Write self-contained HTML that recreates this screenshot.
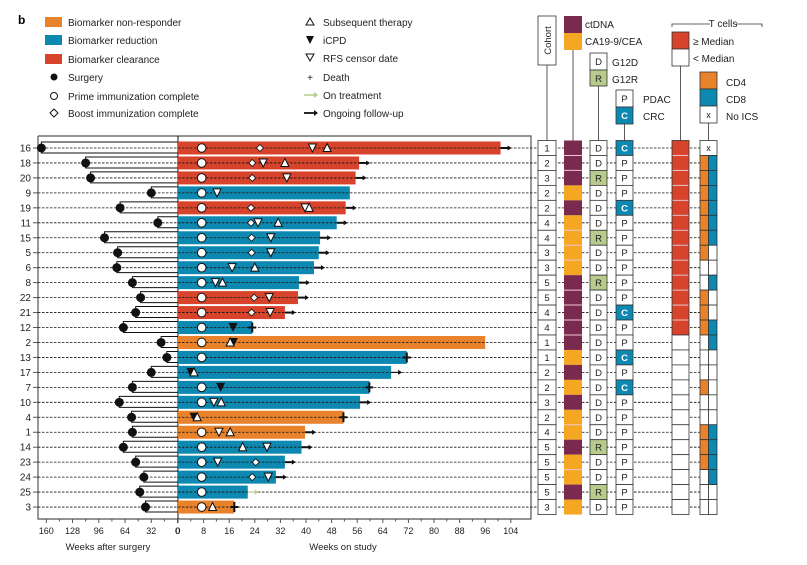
<!DOCTYPE html>
<html><head><meta charset="utf-8"><style>
html,body{margin:0;padding:0;background:#fff}
svg{display:block;font-family:"Liberation Sans",sans-serif}
</style></head><body>
<svg id="c" width="807" height="565" viewBox="0 0 807 565" xmlns="http://www.w3.org/2000/svg"></svg>
<script>
const patients=["16","18","20","9","19","11","15","5","6","8","22","21","12","2","13","17","7","10","4","1","14","23","24","25","3"];
const surgeryWeeks=[166,112,106,32,70,24,89,73,74,55,45,51,66,20,13,32,55,71,56,55,66,51,41,46,39];
const studyWeeks=[100.8,56.6,55.5,53.7,52.4,49.6,44.4,44,42.5,37.8,37.5,33.4,23.2,96,71.5,66.6,59.8,56.9,51.7,39.7,38.6,33.4,30.6,21.8,17.6];
const response=["C","C","C","R","C","R","R","R","R","R","C","C","R","N","R","R","R","R","N","N","R","R","R","R","N"];
const primeWeeks=[7.4,7.4,7.4,7.4,7.4,7.4,7.4,7.4,7.4,7.4,7.4,7.4,7.4,7.4,7.4,null,7.4,7.4,null,7.4,7.4,7.4,7.4,7.4,7.4];
const boostWeeks=[25.6,23.2,23.2,null,22.8,22.8,23,23,null,null,23.8,23,null,null,null,null,null,null,null,null,null,24.3,23.2,null,null];
const rfsWeeks=[42,26.6,34,12.2,39.7,25,29,29,16.9,11.7,28.5,28.8,null,null,null,null,null,11.2,null,12.8,27.8,12.4,28.2,null,null];
const subsqWeeks=[46.6,33.4,null,null,41,31.3,null,null,24,13.9,null,null,null,16.3,null,5,null,13.5,6,16.3,20.2,null,null,null,10.8];
const icpdWeeks=[null,null,null,null,null,null,null,null,null,null,null,null,17.2,17.3,null,4,13.3,null,5,null,null,null,null,null,null];
const endType=["A","A","A","","A","A","A","A","A","A","A","A","D","","D","a","D","A","D","A","A","A","A","G","D"];
const cohort=[1,2,3,2,2,4,4,3,3,5,5,4,4,1,1,2,2,3,2,4,5,5,5,5,3];
const biomarker=["P","P","P","Y","P","Y","Y","Y","Y","P","P","P","P","P","Y","P","Y","P","Y","Y","P","Y","Y","P","Y"];
const kras=["D","D","R","D","D","D","R","D","D","R","D","D","D","D","D","D","D","D","D","D","R","D","D","R","D"];
const tumor=["C","P","P","P","C","P","P","P","P","P","P","C","P","P","C","P","C","P","P","P","P","P","P","P","P"];
const tcell=[1,1,1,1,1,1,1,1,1,1,1,1,1,0,0,0,0,0,0,0,0,0,0,0,0];
const cd4=["x","O","O","O","O","O","O","O","W","W","O","O","O","W","W","W","O","W","W","O","O","O","W","W","W"];
const cd8=["x","B","B","B","B","B","B","W","W","B","W","W","B","B","W","W","W","W","W","B","B","B","B","W","W"];
const leftTicks=[160,128,96,64,32,0];
const rightTicks=[0,8,16,24,32,40,48,56,64,72,80,88,96,104];

const S=document.getElementById('c'),NS="http://www.w3.org/2000/svg";
const COL={C:"#d8432b",R:"#0d88b1",N:"#e8832b",P:"#7a2a4f",Y:"#f5a623",G:"#b7cb8c",T:"#0d88b1",O:"#e8832b",B:"#0d88b1",W:"#fff"};
function el(t,a,p){const e=document.createElementNS(NS,t);for(const k in a)e.setAttribute(k,a[k]);(p||S).appendChild(e);return e;}
function tx(x,y,s,a){const e=el('text',Object.assign({x:x,y:y,'font-size':10,fill:'#222'},a||{}));e.textContent=s;return e;}
const xL=w=>177.5-w*0.82, xR=w=>178+w*3.2, yR=i=>148+i*14.96;
const K='#111';
// legend
tx(18,24,'b',{'font-size':12,'font-weight':'bold',fill:'#000'});
[["N","Biomarker non-responder",22],["R","Biomarker reduction",40],["C","Biomarker clearance",59]].forEach(d=>{
 const g=el('g',{});
 el('rect',{x:45,y:d[2]-5,width:17,height:10,fill:COL[d[0]]},g);tx(68,d[2]+4,d[1],{},);});
el('circle',{cx:54,cy:77,r:3.5,fill:K});tx(68,81,'Surgery');
el('circle',{cx:54,cy:96,r:3.5,fill:'#fff',stroke:K});tx(68,100,'Prime immunization complete');
el('path',{d:'M54 109l4 4-4 4-4-4z',fill:'#fff',stroke:K});tx(68,117,'Boost immunization complete');
el('path',{d:'M310 18l4 7h-8z',fill:'#fff',stroke:K});tx(323,26,'Subsequent therapy');
el('path',{d:'M306 36h8l-4 8z',fill:K});tx(323,44,'iCPD');
el('path',{d:'M306 54h8l-4 7z',fill:'#fff',stroke:K});tx(323,62,'RFS censor date');
tx(310,81,'+',{'text-anchor':'middle'});tx(323,81,'Death');
el('path',{d:'M304 95h10',stroke:'#b7cb8c','stroke-width':1.5});el('path',{d:'M314 92l4 3-4 3z',fill:'#b7cb8c'});tx(323,99,'On treatment');
el('path',{d:'M304 113h10',stroke:K,'stroke-width':1.8});el('path',{d:'M314 110l4 3-4 3z',fill:K});tx(323,117,'Ongoing follow-up');
// frame
el('path',{d:'M38 136V519H531V136H38',fill:'none',stroke:'#555','stroke-width':1.2});
el('path',{d:'M178 136V519',stroke:K,'stroke-width':1});
// rows
patients.forEach((p,i)=>{
 const y=yR(i);
 tx(31,y+3.5,p,{'text-anchor':'end'});
 el('path',{d:`M33 ${y}H38`,stroke:'#555'});
 el('path',{d:`M38 ${y}H717`,stroke:K,'stroke-width':0.8,'stroke-dasharray':'2.5 1.5'});
});
patients.forEach((p,i)=>{
 const y=yR(i);
 const sx=xL(surgeryWeeks[i]);
 const br=el('path',{d:`M178 ${y-6}H${sx}V${y+5}H178`,fill:'none',stroke:K,'stroke-width':1});
 
 const sd=el('circle',{cx:sx,cy:y,r:4.5,fill:K});
 
 
 const b=el('rect',{x:178,y:y-6.5,width:xR(studyWeeks[i])-178,height:13,fill:COL[response[i]]});
 
 
 el('path',{d:`M178 ${y}H${xR(studyWeeks[i])}`,stroke:K,'stroke-width':0.8,'stroke-dasharray':'2.5 1.5'});
 const ex=xR(studyWeeks[i]);
 if(endType[i]=='A'||endType[i]=='a'||endType[i]=='G'){
  const c=endType[i]=='G'?'#b7cb8c':K, w=endType[i]=='A'?2:1.2;
  el('path',{d:`M${ex} ${y}H${ex+8}`,stroke:c,'stroke-width':w});
  el('path',{d:`M${ex+7} ${y-2.5}l4 2.5-4 2.5z`,fill:c});
 }
 if(endType[i]=='D'){el('path',{d:`M${ex-4} ${y}h8M${ex} ${y-5}v10`,stroke:K,'stroke-width':2});}
 if(primeWeeks[i]!=null)el('circle',{cx:xR(primeWeeks[i]),cy:y,r:4.3,fill:'#fff',stroke:K,'stroke-width':1});
 if(boostWeeks[i]!=null){const x=xR(boostWeeks[i]);el('path',{d:`M${x} ${y-3.5}l3.5 3.5-3.5 3.5-3.5-3.5z`,fill:'#fff',stroke:K,'stroke-width':0.8});}
 if(rfsWeeks[i]!=null){const x=xR(rfsWeeks[i]);el('path',{d:`M${x-4} ${y-4}h8l-4 8z`,fill:'#fff',stroke:K,'stroke-width':1});}
 if(icpdWeeks[i]!=null){const x=xR(icpdWeeks[i]);el('path',{d:`M${x-4.5} ${y-4.5}h9l-4.5 9z`,fill:K});}
 if(subsqWeeks[i]!=null){const x=xR(subsqWeeks[i]);el('path',{d:`M${x} ${y-4.5}l4 8h-8z`,fill:'#fff',stroke:K,'stroke-width':1});}
 // right columns
 const top=y-7.5,h=15;
 const c1=el('rect',{x:538,y:top,width:18,height:h,fill:'#fff',stroke:'#333','stroke-width':0.8});
 tx(547,y+3.5,String(cohort[i]),{'text-anchor':'middle','font-size':9.5});
 el('rect',{x:564,y:top,width:18,height:h,fill:COL[biomarker[i]]});
 if(i>0&&biomarker[i]==biomarker[i-1])el('path',{d:`M564 ${top}h18`,stroke:'#f3c6cf','stroke-width':1});
 el('rect',{x:590,y:top,width:17,height:h,fill:kras[i]=='R'?COL.G:'#fff',stroke:'#333','stroke-width':0.8});
 tx(598.5,y+3.5,kras[i],{'text-anchor':'middle','font-size':9.5});
 el('rect',{x:616,y:top,width:17,height:h,fill:tumor[i]=='C'?COL.T:'#fff',stroke:'#333','stroke-width':0.8});
 tx(624.5,y+3.5,tumor[i],{'text-anchor':'middle','font-size':9.5,fill:tumor[i]=='C'?'#fff':'#222','font-weight':tumor[i]=='C'?'bold':'normal'});
 el('rect',{x:672,y:top,width:17,height:h,fill:tcell[i]?COL.C:'#fff',stroke:'#333','stroke-width':0.8});
 if(i>0&&tcell[i]&&tcell[i-1])el('path',{d:`M672.5 ${top}h16`,stroke:'#f3c6cf','stroke-width':1});
 if(cd4[i]=='x'){el('rect',{x:700,y:top,width:17,height:h,fill:'#fff',stroke:'#333','stroke-width':0.8});tx(708.5,y+3,'x',{'text-anchor':'middle','font-size':9});}
 else{el('rect',{x:700,y:top,width:8.5,height:h,fill:COL[cd4[i]],stroke:'#333','stroke-width':0.8});
      el('rect',{x:708.5,y:top,width:8.5,height:h,fill:COL[cd8[i]],stroke:'#333','stroke-width':0.8});}
});
// white row gaps on bars
// axes
leftTicks.forEach(t=>{const x=xL(t);el('path',{d:`M${x} 519v4`,stroke:'#555'});tx(x,534,String(t),{'text-anchor':'middle','font-size':9});});
for(let t=16;t<160;t+=32)el('path',{d:`M${xL(t)} 519v2.5`,stroke:'#555'});
rightTicks.forEach(t=>{const x=xR(t);el('path',{d:`M${x} 519v4`,stroke:'#555'});tx(x,534,String(t),{'text-anchor':'middle','font-size':9});});
for(let t=4;t<108;t+=8)el('path',{d:`M${xR(t)} 519v2.5`,stroke:'#555'});
tx(108,550,'Weeks after surgery',{'text-anchor':'middle','font-size':9.5});
tx(343,550,'Weeks on study',{'text-anchor':'middle','font-size':9.5});
// column headers
el('rect',{x:538,y:16,width:18,height:49,fill:'#fff',stroke:'#333','stroke-width':0.8});
tx(0,0,'Cohort',{transform:'translate(551 40.5) rotate(-90)','text-anchor':'middle','font-size':9.5});
el('path',{d:'M547 65V140.5M573 50V140.5M598.5 86V140.5M624.5 124V140.5M680.5 66V140.5M708.5 123V140.5',stroke:'#333','stroke-width':0.8});
el('rect',{x:564,y:16,width:18,height:17,fill:COL.P});el('rect',{x:564,y:33,width:18,height:17,fill:COL.Y});
tx(585,28,'ctDNA');tx(585,45,'CA19-9/CEA');
el('rect',{x:590,y:53,width:17,height:17,fill:'#fff',stroke:'#333','stroke-width':0.8});tx(598.5,65,'D',{'text-anchor':'middle','font-size':9.5});
el('rect',{x:590,y:70,width:17,height:16,fill:COL.G,stroke:'#333','stroke-width':0.8});tx(598.5,82,'R',{'text-anchor':'middle','font-size':9.5});
tx(612,66,'G12D');tx(612,83,'G12R');
el('rect',{x:616,y:90,width:17,height:17,fill:'#fff',stroke:'#333','stroke-width':0.8});tx(624.5,102,'P',{'text-anchor':'middle','font-size':9.5});
el('rect',{x:616,y:107,width:17,height:17,fill:COL.T,stroke:'#333','stroke-width':0.8});tx(624.5,119,'C',{'text-anchor':'middle','font-size':9.5,fill:'#fff','font-weight':'bold'});
tx(643,103,'PDAC');tx(643,120,'CRC');
el('path',{d:'M672 27v-3h38M736 24h26v3',fill:'none',stroke:'#333','stroke-width':0.8});
tx(723,27,'T cells',{'text-anchor':'middle'});
el('rect',{x:672,y:32,width:17,height:17,fill:COL.C,stroke:'#333','stroke-width':0.8});
el('rect',{x:672,y:49,width:17,height:17,fill:'#fff',stroke:'#333','stroke-width':0.8});
tx(693,45,'≥ Median');tx(693,62,'< Median');
el('rect',{x:700,y:72,width:17,height:17,fill:COL.O,stroke:'#333','stroke-width':0.8});
el('rect',{x:700,y:89,width:17,height:17,fill:COL.B,stroke:'#333','stroke-width':0.8});
el('rect',{x:700,y:106,width:17,height:17,fill:'#fff',stroke:'#333','stroke-width':0.8});tx(708.5,118,'x',{'text-anchor':'middle','font-size':9});
tx(726,86,'CD4');tx(726,103,'CD8');tx(726,120,'No ICS');
</script>
</body></html>
